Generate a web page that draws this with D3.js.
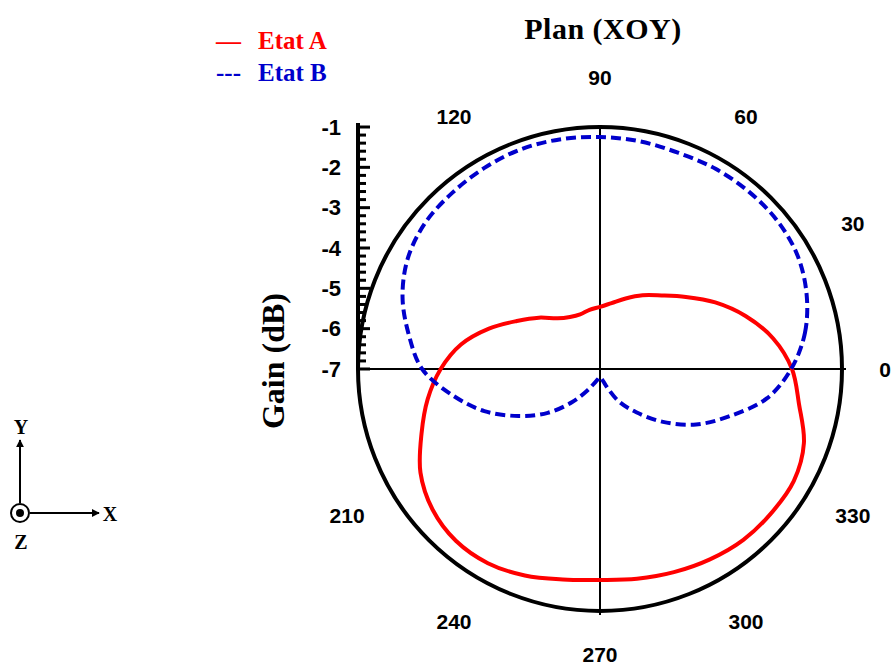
<!DOCTYPE html>
<html><head><meta charset="utf-8">
<script src="https://cdn.jsdelivr.net/npm/d3@7"></script>
<style>body{margin:0;background:#fff}svg{display:block}</style>
</head><body>
<svg id="chart" width="893" height="670"></svg>
<script>
// Data (angle in degrees, gain in dB)
const angles = [0,10,20,30,40,50,60,70,80,90,100,110,120,130,140,150,160,170,180,190,200,210,220,230,240,250,260,270,280,290,300,310,320,330,340,350];
const etatA = [-2.24,-2.64,-3.16,-3.70,-4.22,-4.62,-4.89,-5.14,-5.34,-5.46,-5.51,-5.56,-5.51,-5.36,-5.02,-4.62,-4.07,-3.50,-3.05,-2.66,-2.29,-1.86,-1.58,-1.44,-1.44,-1.55,-1.70,-1.77,-1.72,-1.64,-1.55,-1.47,-1.45,-1.45,-1.62,-1.99];
const etatB = [-2.26,-1.84,-1.55,-1.35,-1.27,-1.26,-1.27,-1.30,-1.27,-1.25,-1.22,-1.21,-1.25,-1.30,-1.35,-1.50,-1.79,-2.19,-2.59,-3.28,-3.95,-4.67,-5.31,-5.93,-6.40,-6.65,-6.75,-6.80,-6.75,-6.55,-6.08,-5.60,-4.96,-4.25,-3.58,-2.80];
const radialTicks = [-1,-2,-3,-4,-5,-6,-7];
const angleLabels = [0,30,60,90,120,210,240,270,300,330];
const seriesNames = ["Etat A","Etat B"];
const title = "Plan (XOY)";
const radialTitle = "Gain (dB)";

const svg = d3.select("#chart");
const cx = 600, cy = 369, R = 242;
const r = d3.scaleLinear().domain([-7,-1]).range([0,R]);
const toRad = d => (90 - d) * Math.PI / 180;
const g = svg.append("g").attr("transform", `translate(${cx},${cy})`);

// axes lines
g.append("line").attr("x1", -R).attr("x2", R + 4).attr("y1", 0).attr("y2", 0).attr("stroke","#000").attr("stroke-width",2);
g.append("line").attr("x1", 0).attr("x2", 0).attr("y1", -R).attr("y2", R + 4).attr("stroke","#000").attr("stroke-width",2);

// outer circle
g.append("circle").attr("r", R).attr("fill","none").attr("stroke","#000").attr("stroke-width",4);

// angle labels
const labelPos = d => {
  const rr = d === 270 ? 285 : 292;
  return [d === 0 ? 285 : rr * Math.cos(d*Math.PI/180), -rr * Math.sin(d*Math.PI/180)];
};
g.selectAll("text.ang").data(angleLabels).enter().append("text")
  .attr("class","ang")
  .attr("x", d => labelPos(d)[0])
  .attr("y", d => labelPos(d)[1])
  .attr("text-anchor","middle").attr("dominant-baseline","central")
  .style("font-family","Arial, 'Liberation Sans', sans-serif").style("font-weight","bold").style("font-size","21px")
  .text(d => d);

// radial axis
const ax = g.append("g").attr("transform", `translate(${-R},0)`);
ax.append("line").attr("x1",0).attr("x2",0).attr("y1",-r(-1)-4).attr("y2",0).attr("stroke","#000").attr("stroke-width",4);
const minor = d3.range(-7, -0.99, 0.2).map(v => +v.toFixed(2));
ax.selectAll("line.mn").data(minor).enter().append("line")
  .attr("x1",0).attr("x2", d => Math.abs(d - Math.round(d)) < 1e-6 ? 12 : 8)
  .attr("y1", d => -r(d)).attr("y2", d => -r(d))
  .attr("stroke","#000").attr("stroke-width",3);
ax.selectAll("text.rt").data(radialTicks).enter().append("text")
  .attr("x",-17).attr("y", d => -r(d))
  .attr("text-anchor","end").attr("dominant-baseline","central")
  .style("font-family","Arial, 'Liberation Sans', sans-serif").style("font-weight","bold").style("font-size","22px")
  .text(d => d);

// radial axis title
svg.append("text").attr("transform","translate(273,361) rotate(-90)")
  .attr("text-anchor","middle").attr("dominant-baseline","central")
  .style("font-family","'Liberation Serif','Times New Roman',serif").style("font-weight","bold").style("font-size","32px")
  .text(radialTitle);

// curves
const line = d3.lineRadial().angle(d => toRad(d[0])).radius(d => r(d[1])).curve(d3.curveCatmullRomClosed);
const dataA = angles.map((a,i) => [a, etatA[i]]);
const dataB = angles.map((a,i) => [a, etatB[i]]);
g.append("path").attr("d", line(dataA)).attr("fill","none").attr("stroke","#ff0000").attr("stroke-width",4);
g.append("path").attr("d", line(dataB)).attr("fill","none").attr("stroke","#0000cc").attr("stroke-width",4).attr("stroke-dasharray","10,5");

// title
svg.append("text").attr("x",603).attr("y",28).attr("text-anchor","middle").attr("dominant-baseline","central")
  .style("font-family","'Liberation Serif','Times New Roman',serif").style("font-weight","bold").style("font-size","30px")
  .style("letter-spacing","0.5px")
  .text(title);

// legend
const leg = svg.append("g").style("font-family","'Liberation Serif','Times New Roman',serif").style("font-weight","bold").style("font-size","25px");
leg.append("text").attr("x",216).attr("y",40).attr("dominant-baseline","central").attr("fill","#ff0000").text("—");
leg.append("text").attr("x",258).attr("y",40).attr("dominant-baseline","central").attr("fill","#ff0000").text(seriesNames[0]);
leg.append("text").attr("x",216).attr("y",72).attr("dominant-baseline","central").attr("fill","#0000cc").text("---");
leg.append("text").attr("x",258).attr("y",72).attr("dominant-baseline","central").attr("fill","#0000cc").text(seriesNames[1]);

// coordinate system icon
const ic = svg.append("g");
svg.append("defs").append("marker").attr("id","arr").attr("viewBox","0 0 10 10").attr("refX",9).attr("refY",5)
  .attr("markerWidth",4).attr("markerHeight",4).attr("orient","auto")
  .append("path").attr("d","M0,0L10,5L0,10z").attr("fill","#000");
ic.append("line").attr("x1",20).attr("y1",503).attr("x2",20).attr("y2",440).attr("stroke","#000").attr("stroke-width",2).attr("marker-end","url(#arr)");
ic.append("line").attr("x1",30).attr("y1",513).attr("x2",99).attr("y2",513).attr("stroke","#000").attr("stroke-width",2).attr("marker-end","url(#arr)");
ic.append("circle").attr("cx",20).attr("cy",513).attr("r",9).attr("fill","none").attr("stroke","#000").attr("stroke-width",2);
ic.append("circle").attr("cx",20).attr("cy",513).attr("r",4).attr("fill","#000");
const icf = s => s.style("font-family","'Liberation Serif','Times New Roman',serif").style("font-weight","bold").style("font-size","20px").attr("text-anchor","middle").attr("dominant-baseline","central");
icf(ic.append("text").attr("x",21).attr("y",427).text("Y"));
icf(ic.append("text").attr("x",110).attr("y",514).text("X"));
icf(ic.append("text").attr("x",21).attr("y",542).text("Z"));
</script>
</body></html>
